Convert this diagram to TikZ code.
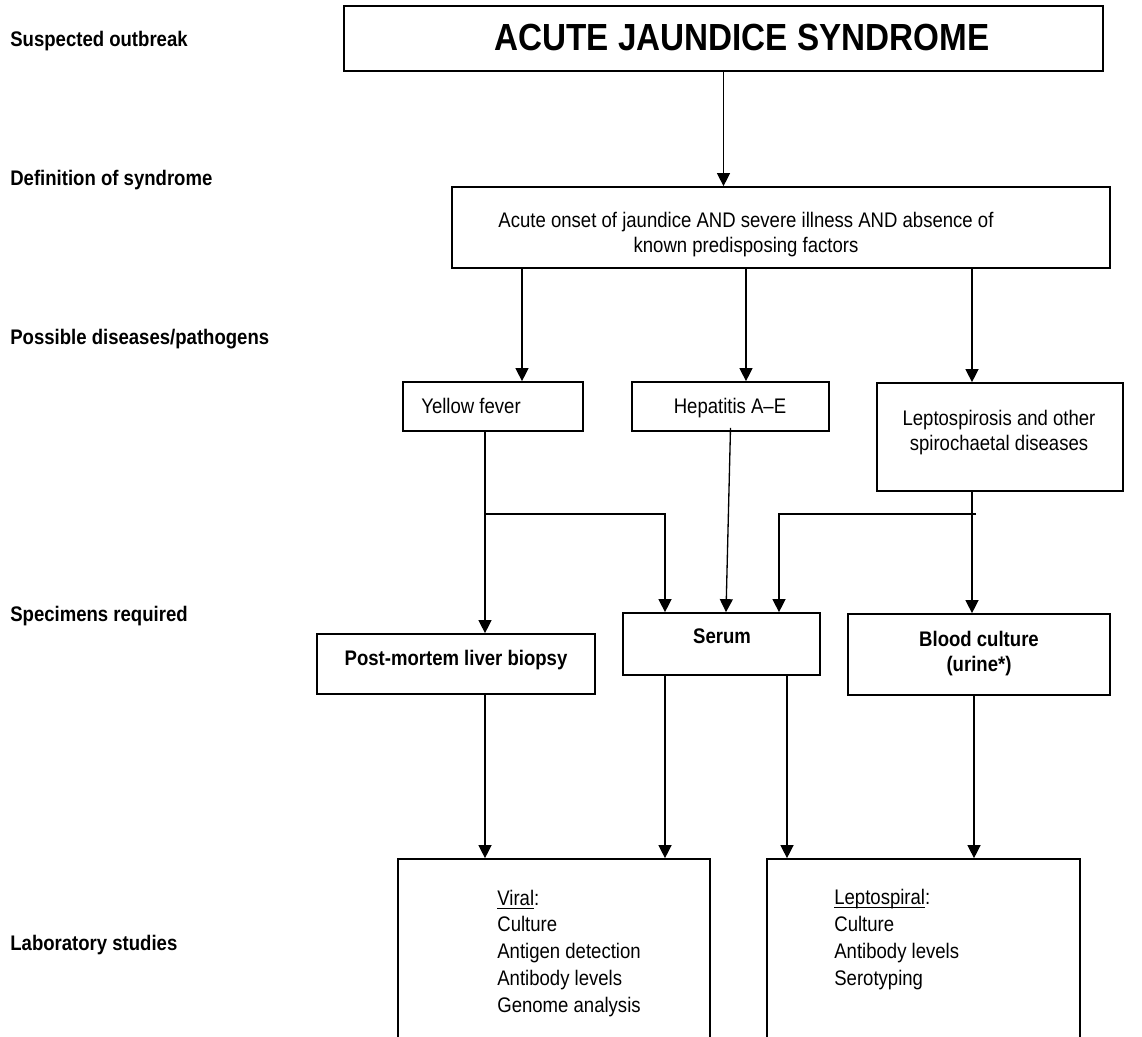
\documentclass[tikz,border=0pt]{standalone}
\usepackage{fontspec}
\setmainfont{Liberation Sans}
\newfontfamily\condfont{Liberation Sans}[FakeStretch=0.88, Ligatures=TeX]
\usetikzlibrary{arrows.meta, positioning, calc}

\tikzset{
  box/.style={draw, line width=1pt, inner sep=0pt},
  stage/.style={anchor=base west, inner sep=0pt, font={\condfont\bfseries\fontsize{12}{14.2}\selectfont}},
  boxtext/.style={anchor=base, inner sep=0pt, align=center, font={\condfont\fontsize{12}{14.2}\selectfont}},
  boldtext/.style={boxtext, font={\condfont\bfseries\fontsize{12}{14.2}\selectfont}},
  listtext/.style={anchor=base west, inner sep=0pt, align=left, font={\condfont\fontsize{12}{15.2}\selectfont}},
  flow/.style={-{Triangle[length=7.4pt, width=7.4pt]}, line width=0.75pt},
}

\begin{document}
\begin{tikzpicture}[x=0.02cm, y=-0.02cm]
    \useasboundingbox (0,0) rectangle (1142,1036);

    % Stage labels on the left
    \node[stage] (st1) at (10,46) {Suspected outbreak};
    \node[stage] (st2) at (10,185) {Definition of syndrome};
    \node[stage] (st3) at (10,344) {Possible diseases/pathogens};
    \node[stage] (st4) at (10,621) {Specimens required};
    \node[stage] (st5) at (10,950) {Laboratory studies};

    % Syndrome
    \node[box, minimum width=15.18cm, minimum height=1.3cm] (syn) at (723.5,38.5) {};
    \node[boxtext, font={\condfont\bfseries\fontsize{21.5}{25}\selectfont}] (syntxt) at (742,50) {ACUTE JAUNDICE SYNDROME};

    % Definition (base = last line)
    \node[box, minimum width=13.16cm, minimum height=1.62cm] (def) at (781,227.5) {};
    \node[boxtext] (deftxt) at (746,252) {Acute onset of jaundice AND severe illness AND absence of\\known predisposing factors};

    % Diseases
    \node[box, minimum width=3.6cm, minimum height=0.98cm] (yf) at (493,406.5) {};
    \node[boxtext, anchor=base west] (yftxt) at (421,413) {Yellow fever};
    \node[box, minimum width=3.94cm, minimum height=0.98cm] (hep) at (730.5,406.5) {};
    \node[boxtext] (heptxt) at (730,413) {Hepatitis A–E};
    \node[box, minimum width=4.92cm, minimum height=2.16cm] (lep) at (1000,437) {};
    \node[boxtext] (leptxt) at (999,450) {Leptospirosis and other\\spirochaetal diseases};

    % Specimens
    \node[box, minimum width=5.56cm, minimum height=1.2cm] (pm) at (456,664) {};
    \node[boldtext] (pmtxt) at (456,665) {Post-mortem liver biopsy};
    \node[box, minimum width=3.94cm, minimum height=1.24cm] (ser) at (721.5,644) {};
    \node[boldtext] (sertxt) at (722,643) {Serum};
    \node[box, minimum width=5.24cm, minimum height=1.62cm] (bc) at (979,654.5) {};
    \node[boldtext] (bctxt) at (979,671) {Blood culture\\(urine*)};

    % Laboratory studies
    \node[box, minimum width=6.24cm, minimum height=3.82cm] (vir) at (554,954.5) {};
    \node[listtext] (virtxt) at (497,1012) {\underline{Viral}:\\Culture\\Antigen detection\\Antibody levels\\Genome analysis};
    \node[box, minimum width=6.26cm, minimum height=3.82cm] (lab) at (923.5,954.5) {};
    \node[listtext] (labtxt) at (834,985) {\underline{\smash{Leptospiral}}:\\Culture\\Antibody levels\\Serotyping};

    % Connections
    \draw[flow] (syn.south) -- (syn.south |- def.north);

    \coordinate (yfin) at ($(yf.north)+(29,0)$);
    \coordinate (hepin) at ($(hep.north)+(15.5,0)$);
    \coordinate (lepin) at ($(lep.north)+(-28,0)$);
    \draw[flow] (yfin |- def.south) -- (yfin);
    \draw[flow] (hepin |- def.south) -- (hepin);
    \draw[flow] (lepin |- def.south) -- (lepin);

    \coordinate (yfout) at ($(yf.south)+(-8,0)$);
    \coordinate (yfj) at ($(yf.south)+(-8,82)$);
    \coordinate (serl) at ($(ser.north)+(-56.5,0)$);
    \coordinate (serr) at ($(ser.north)+(57.5,0)$);
    \draw[flow] (yfout) -- (yfout |- pm.north);
    \draw[flow] (yfj) -| (serl);
    \draw[flow] ($(hep.south)+(0,-4)$) -- ($(ser.north)+(4.5,0)$);

    \coordinate (lepout) at ($(lep.south)+(-28,0)$);
    \coordinate (lepj) at ($(lep.south)+(-24,22)$);
    \draw[flow] (lepout) -- (lepout |- bc.north);
    \draw[flow] (lepj) -| (serr);

    \coordinate (pmout) at ($(pm.south)+(29,0)$);
    \coordinate (serout1) at ($(ser.south)+(-56.5,0)$);
    \coordinate (serout2) at ($(ser.south)+(65.5,0)$);
    \coordinate (bcout) at ($(bc.south)+(-5,0)$);
    \draw[flow] (pmout) -- (pmout |- vir.north);
    \draw[flow] (serout1) -- (serout1 |- vir.north);
    \draw[flow] (serout2) -- (serout2 |- lab.north);
    \draw[flow] (bcout) -- (bcout |- lab.north);
\end{tikzpicture}
\end{document}
